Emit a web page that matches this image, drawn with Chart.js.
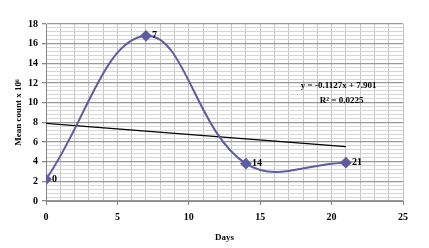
<!DOCTYPE html>
<html>
<head>
<meta charset="utf-8">
<script src="https://cdn.jsdelivr.net/npm/chart.js@4.4.0/dist/chart.umd.min.js"></script>
<style>
  html, body { margin: 0; padding: 0; background: #fff; }
  #wrap { width: 429px; height: 248px; }
</style>
</head>
<body>
<div id="wrap"><canvas id="chart" width="429" height="248"></canvas></div>
<script>
// values
const days = [0, 7, 14, 21];
const meanCount = [2.2, 16.8, 3.8, 3.9];
const pointLabels = ['0', '7', '14', '21'];

// linear trend (as printed on the chart)
const trendSlope = -0.1127;
const trendIntercept = 7.901;
const trendText = ['y = -0.1127x + 7.901', 'R\u00b2 = 0.0225'];

const xTickLabels = [0, 5, 10, 15, 20, 25];
const yTickLabels = [0, 2, 4, 6, 8, 10, 12, 14, 16, 18];

const serif = 'Liberation Serif, Times New Roman, serif';

function isTick(list, v) {
  return list.some(t => Math.abs(t - v) < 1e-6);
}

// labels next to each point + the trend equation
const labelPlugin = {
  id: 'labels',
  afterDatasetsDraw(chart) {
    const ctx = chart.ctx;
    const meta = chart.getDatasetMeta(0);
    ctx.save();
    ctx.fillStyle = '#000';
    ctx.font = 'bold 10px ' + serif;
    ctx.textBaseline = 'middle';
    ctx.textAlign = 'left';
    meta.data.forEach((pt, i) => {
      ctx.fillText(pointLabels[i], pt.x + 6, pt.y);
    });
    const xs = chart.scales.x, ys = chart.scales.y;
    ctx.textAlign = 'center';
    ctx.font = 'bold 9px ' + serif;
    ctx.fillText(trendText[0], xs.getPixelForValue(20.5), ys.getPixelForValue(11.7));
    ctx.fillText(trendText[1], xs.getPixelForValue(20.7), ys.getPixelForValue(10.2));
    ctx.restore();
  }
};

const trendEnd = days[days.length - 1];

new Chart(document.getElementById('chart'), {
  type: 'scatter',
  data: {
    datasets: [
      {
        data: days.map((d, i) => ({ x: d, y: meanCount[i] })),
        showLine: true,
        tension: 0.4,
        borderColor: '#5d5d9f',
        backgroundColor: '#5d5d9f',
        borderWidth: 2,
        pointStyle: 'rectRot',
        pointRadius: 4.5,
        pointHoverRadius: 4.5
      },
      {
        data: [
          { x: 0, y: trendIntercept },
          { x: trendEnd, y: trendIntercept + trendSlope * trendEnd }
        ],
        showLine: true,
        borderColor: '#000',
        borderWidth: 1.3,
        pointRadius: 0
      }
    ]
  },
  options: {
    responsive: false,
    animation: false,
    layout: { padding: { left: 0, top: 24, right: 26, bottom: 0 } },
    plugins: { legend: { display: false }, tooltip: { enabled: false } },
    scales: {
      x: {
        type: 'linear',
        min: 0,
        max: 25,
        afterFit(scale) { scale.height = 47; },
        ticks: {
          stepSize: 1,
          autoSkip: false,
          maxRotation: 0,
          padding: 6,
          color: '#000',
          font: { family: serif, size: 10, weight: 'bold' },
          callback: v => isTick(xTickLabels, v) ? String(v) : ''
        },
        grid: {
          color: '#c4c4c4',
          lineWidth: 1,
          tickLength: 4,
          tickColor: ctx => isTick(xTickLabels, ctx.tick.value) ? '#888' : 'rgba(0,0,0,0)'
        },
        border: { color: '#888', width: 1 },
        title: {
          display: true,
          text: 'Days',
          color: '#000',
          font: { family: serif, size: 9, weight: 'bold' },
          padding: { top: 0, bottom: 5 }
        }
      },
      y: {
        min: 0,
        max: 18,
        afterFit(scale) { scale.width = 46; },
        ticks: {
          stepSize: 0.4,
          autoSkip: false,
          padding: 4,
          color: '#000',
          font: { family: serif, size: 10, weight: 'bold' },
          callback: v => isTick(yTickLabels, v) ? String(Math.round(v)) : ''
        },
        grid: {
          color: ctx => isTick(yTickLabels, ctx.tick.value) ? '#999' : '#d6d6d6',
          lineWidth: ctx => isTick(yTickLabels, ctx.tick.value) ? 1.3 : 1,
          tickLength: 4,
          tickColor: ctx => isTick(yTickLabels, ctx.tick.value) ? '#888' : 'rgba(0,0,0,0)'
        },
        border: { color: '#888', width: 1 },
        title: {
          display: true,
          text: 'Mean count x 10\u2076',
          color: '#000',
          font: { family: serif, size: 9, weight: 'bold' },
          padding: { top: 13, bottom: 0 }
        }
      }
    }
  },
  plugins: [labelPlugin]
});
</script>
</body>
</html>
